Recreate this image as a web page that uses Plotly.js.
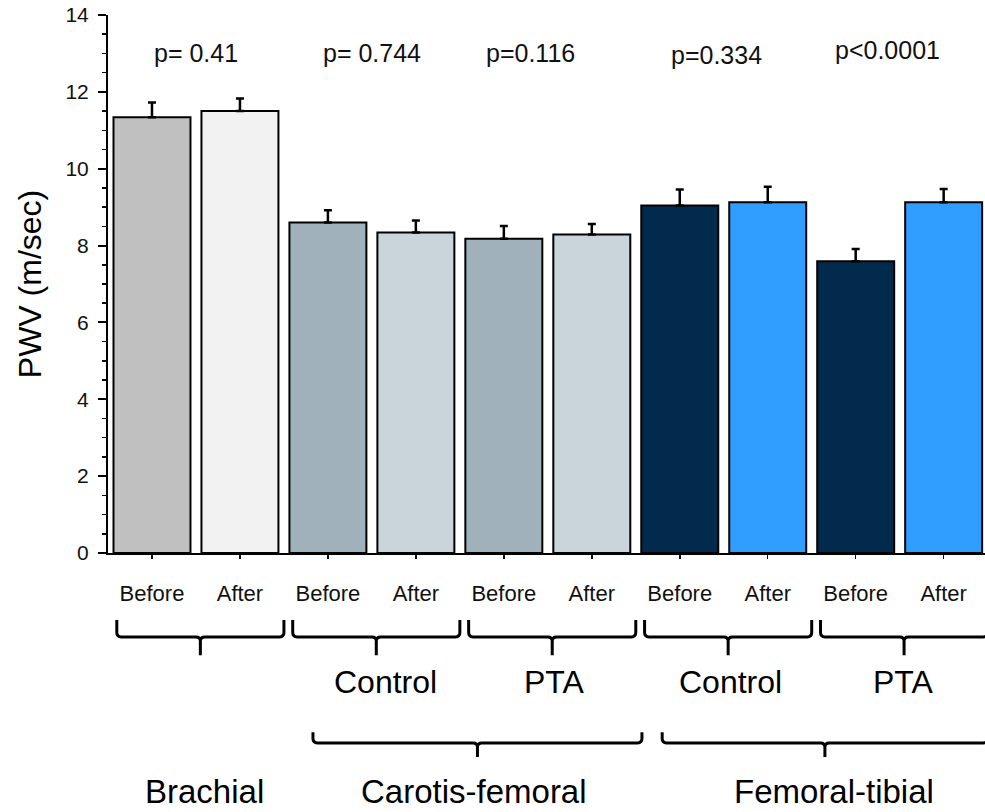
<!DOCTYPE html>
<html>
<head>
<meta charset="utf-8">
<script src="https://cdn.plot.ly/plotly-3.0.1.min.js"></script>
<style>html,body{margin:0;padding:0;background:#fff;}#chart{width:985px;height:812px;}</style>
</head>
<body>
<div id="chart"></div>
<script>
// ---- data ----
var barLabels = ["Before","After","Before","After","Before","After","Before","After","Before","After"];
var pwvMean   = [11.34, 11.50, 8.60, 8.34, 8.18, 8.29, 9.04, 9.13, 7.59, 9.13];
var pwvErr    = [0.38, 0.33, 0.32, 0.31, 0.33, 0.27, 0.42, 0.40, 0.32, 0.34];
var pValues   = ["p= 0.41", "p= 0.744", "p=0.116", "p=0.334", "p<0.0001"];
var subGroups = ["", "Control", "PTA", "Control", "PTA"];
var mainGroups = ["Brachial", "Carotis-femoral", "Femoral-tibial"];

// ---- styles ----
var barColors = ["#c0c0c0","#f2f2f2","#a1b1bc","#c9d4db","#a1b1bc","#c9d4db","#022a4c","#309eff","#022a4c","#309eff"];
var FONT = "Liberation Sans, Arial, sans-serif";
var idx = barLabels.map(function(_, i){ return i; });

var trace = {
  type: "bar",
  x: idx,
  y: pwvMean,
  width: 0.875,
  marker: {color: barColors, line: {color: "#000", width: 2}},
  error_y: {type: "data", symmetric: false, array: pwvErr, arrayminus: pwvErr.map(function(){return 0;}),
            color: "#000", thickness: 2.5, width: 4},
  hoverinfo: "none"
};

// layout helpers (positions, not data)
var pLabelX = [0.5, 2.5, 4.3, 6.42, 8.36];
var pLabelY = [13.0, 13.0, 13.0, 12.95, 13.1];
var subLabelX = [0.55, 2.65, 4.58, 6.58, 8.54];
var mainLabelX = [0.6, 3.66, 7.75];
var row1 = {top: -0.1245, line: -0.156, tip: -0.19};
var row2 = {top: -0.333, line: -0.353, tip: -0.379};
var row2Spans = [[1.83, 5.57], [5.80, 9.50]];

function bracketPath(x0, x1, r) {
  var xc = (x0 + x1) / 2, dx = 0.05, dy = 0.008;
  return "M" + x0 + "," + r.top +
         " L" + x0 + "," + (r.line + dy) +
         " Q" + x0 + "," + r.line + " " + (x0 + dx) + "," + r.line +
         " L" + (xc - dx) + "," + r.line +
         " Q" + xc + "," + r.line + " " + xc + "," + (r.line - dy) +
         " L" + xc + "," + r.tip +
         " M" + xc + "," + (r.line - dy) +
         " Q" + xc + "," + r.line + " " + (xc + dx) + "," + r.line +
         " L" + (x1 - dx) + "," + r.line +
         " Q" + x1 + "," + r.line + " " + x1 + "," + (r.line + dy) +
         " L" + x1 + "," + r.top;
}

var shapes = [];
for (var k = 0; k < pValues.length; k++) {
  shapes.push({type: "path", xref: "x", yref: "paper", path: bracketPath(2*k - 0.4, 2*k + 1.5, row1),
               line: {color: "#000", width: 3}});
}
row2Spans.forEach(function(s){
  shapes.push({type: "path", xref: "x", yref: "paper", path: bracketPath(s[0], s[1], row2),
               line: {color: "#000", width: 3}});
});

var annotations = [];
pValues.forEach(function(t, i){
  annotations.push({text: t, x: pLabelX[i], y: pLabelY[i], xref: "x", yref: "y", showarrow: false,
                    xanchor: "center", yanchor: "middle",
                    font: {family: FONT, size: 25, color: "#111"}});
});
subGroups.forEach(function(t, i){
  if (!t) return;
  annotations.push({text: t, x: subLabelX[i], y: -0.24, xref: "x", yref: "paper", showarrow: false,
                    xanchor: "center", yanchor: "middle",
                    font: {family: FONT, size: 32, color: "#000"}});
});
mainGroups.forEach(function(t, i){
  annotations.push({text: t, x: mainLabelX[i], y: -0.444, xref: "x", yref: "paper", showarrow: false,
                    xanchor: "center", yanchor: "middle",
                    font: {family: FONT, size: 33, color: "#000"}});
});

var layout = {
  width: 985, height: 812,
  margin: {l: 108, r: 0, t: 15, b: 259},
  paper_bgcolor: "#fff", plot_bgcolor: "#fff",
  showlegend: false,
  font: {family: FONT, color: "#111"},
  xaxis: {
    range: [-0.5, 9.47], tickmode: "array", tickvals: idx, ticktext: barLabels,
    showgrid: false, zeroline: false, showline: true, linecolor: "#000", linewidth: 2,
    ticks: "outside", ticklen: 4, tickwidth: 1.5, tickcolor: "#000",
    tickfont: {family: FONT, size: 22, color: "#111"}, ticklabelstandoff: 16
  },
  yaxis: {
    range: [0, 14], dtick: 2, showgrid: false, zeroline: false,
    showline: true, linecolor: "#000", linewidth: 2,
    ticks: "outside", ticklen: 8, tickwidth: 2, tickcolor: "#000",
    minor: {dtick: 0.5, ticks: "outside", ticklen: 4, tickwidth: 1.5, tickcolor: "#000"},
    tickfont: {family: FONT, size: 21, color: "#111"}, ticklabelstandoff: 5,
    title: {text: "PWV (m/sec)", font: {family: FONT, size: 32, color: "#000"}, standoff: 14}
  },
  shapes: shapes,
  annotations: annotations
};

Plotly.newPlot("chart", [trace], layout, {displayModeBar: false, staticPlot: true});
</script>
</body>
</html>
